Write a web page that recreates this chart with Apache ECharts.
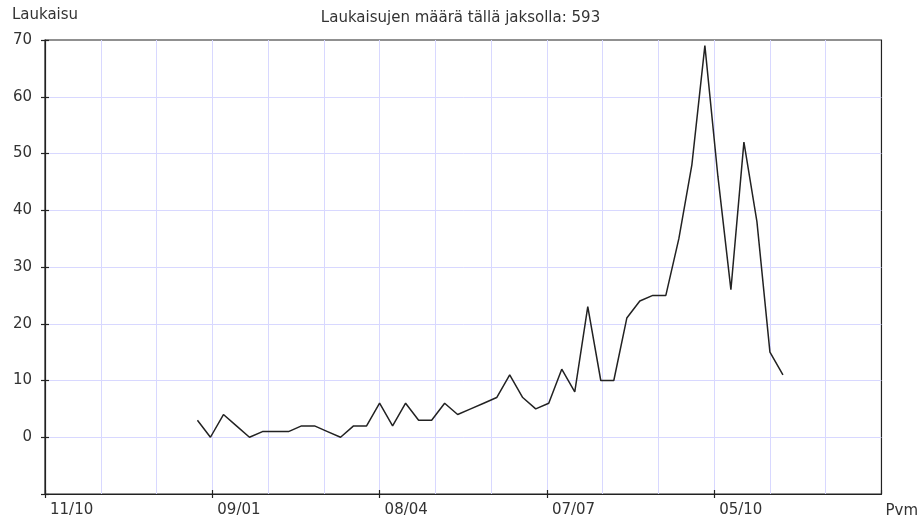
<!DOCTYPE html>
<html>
<head>
<meta charset="utf-8">
<script src="https://cdn.jsdelivr.net/npm/echarts@6/dist/echarts.min.js"></script>
<style>html,body{margin:0;padding:0;background:#fff}#c{width:921px;height:521px}</style>
</head>
<body>
<div id="c"></div>
<script>
// Axis start date (first grid line); labelled ticks every 90 days, grid every 30 days
const axisStart = '2007-10-11';
const tickLabels = ['11/10', '09/01', '08/04', '07/07', '05/10'];
// Weekly periods
const weeks = [
  '2008-01-01','2008-01-08','2008-01-15','2008-01-22','2008-01-29',
  '2008-02-05','2008-02-12','2008-02-19','2008-02-26',
  '2008-03-04','2008-03-11','2008-03-18','2008-03-25',
  '2008-04-01','2008-04-08','2008-04-15','2008-04-22','2008-04-29',
  '2008-05-06','2008-05-13','2008-05-20','2008-05-27',
  '2008-06-03','2008-06-10','2008-06-17','2008-06-24',
  '2008-07-01','2008-07-08','2008-07-15','2008-07-22','2008-07-29',
  '2008-08-05','2008-08-12','2008-08-19','2008-08-26',
  '2008-09-02','2008-09-09','2008-09-16','2008-09-23','2008-09-30',
  '2008-10-07','2008-10-14','2008-10-21','2008-10-28',
  '2008-11-04','2008-11-11'
];
// Launch counts per week
const launches = [
  3, 0, 4, 2, 0, 1, 1, 1, 2, 2, 1, 0,
  2, 2, 6, 2, 6, 3, 3, 6, 4, 5, 6, 7,
  11, 7, 5, 6, 12, 8, 23, 10, 10, 21, 24, 25,
  25, 35, 48, 69, 46, 26, 52, 38, 15, 11
];
const totalLabel = 'Laukaisujen määrä tällä jaksolla: 593';

const DAY = 86400000;
const t0 = Date.parse(axisStart);
const seriesData = weeks.map((d, i) => [(Date.parse(d) - t0) / DAY, launches[i]]);

const X_MAX = 450;
const font = 'DejaVu Sans';
const fs = 15;
const txt = '#333';
const axisCol = '#222';
const gridCol = '#d8d8ff';
const chart = echarts.init(document.getElementById('c'));
chart.setOption({
  animation: false,
  title: {
    text: totalLabel, left: 'center', top: 6,
    textStyle: { fontFamily: font, fontSize: fs, fontWeight: 'normal', color: txt }
  },
  grid: { left: 45, right: 38, top: 40, bottom: 27, show: true, borderColor: axisCol, borderWidth: 1.2, backgroundColor: 'transparent' },
  xAxis: [
    {
      type: 'value', min: 0, max: X_MAX, interval: 30, position: 'bottom',
      axisLine: { show: false, onZero: false }, axisTick: { show: false }, axisLabel: { show: false },
      splitLine: { show: true, showMinLine: false, showMaxLine: false, lineStyle: { color: gridCol, width: 1 } }
    },
    {
      type: 'value', min: 0, max: X_MAX, interval: 90, position: 'bottom',
      axisLine: { show: false, onZero: false }, splitLine: { show: false }, axisLabel: { show: false },
      axisTick: { show: true, inside: true, length: 4, lineStyle: { color: axisCol, width: 1.2 } }
    },
    {
      type: 'value', min: 0, max: X_MAX, interval: 90, position: 'bottom',
      name: 'Pvm', nameLocation: 'end', nameGap: 4,
      nameTextStyle: { fontFamily: font, fontSize: fs, color: txt, align: 'left', verticalAlign: 'top', padding: [10, 0, 0, 0] },
      axisLine: { show: true, onZero: false, lineStyle: { color: axisCol, width: 1.2 } },
      axisTick: { show: true, length: 4, lineStyle: { color: axisCol, width: 1.2 } },
      splitLine: { show: false },
      axisLabel: {
        fontFamily: font, fontSize: fs, color: txt, margin: 9, align: 'left', padding: [0, 0, 0, 5],
        showMaxLabel: false,
        formatter: v => { const k = Math.round(v / 90); return (v % 90 === 0 && k < tickLabels.length) ? tickLabels[k] : ''; }
      }
    }
  ],
  yAxis: [
    {
      type: 'value', min: -10, max: 70, interval: 10, position: 'left',
      name: 'Laukaisu', nameLocation: 'end', nameGap: 17,
      nameTextStyle: { fontFamily: font, fontSize: fs, color: txt },
      axisLine: { show: true, onZero: false, lineStyle: { color: axisCol, width: 1.2 } },
      axisTick: { show: true, length: 4, lineStyle: { color: axisCol, width: 1.2 } },
      axisLabel: { fontFamily: font, fontSize: fs, color: txt, margin: 13, formatter: v => v < 0 ? '' : String(v) },
      splitLine: { show: true, showMinLine: false, showMaxLine: false, lineStyle: { color: gridCol, width: 1 } }
    },
    {
      type: 'value', min: -10, max: 70, interval: 10, position: 'left',
      axisLine: { show: false, onZero: false }, axisLabel: { show: false }, splitLine: { show: false },
      axisTick: { show: true, inside: true, length: 4, lineStyle: { color: axisCol, width: 1.2 } }
    }
  ],
  series: [{
    type: 'line', xAxisIndex: 2, yAxisIndex: 0, data: seriesData, showSymbol: false,
    lineStyle: { color: '#222', width: 1.5 }
  }]
});
</script>
</body>
</html>
